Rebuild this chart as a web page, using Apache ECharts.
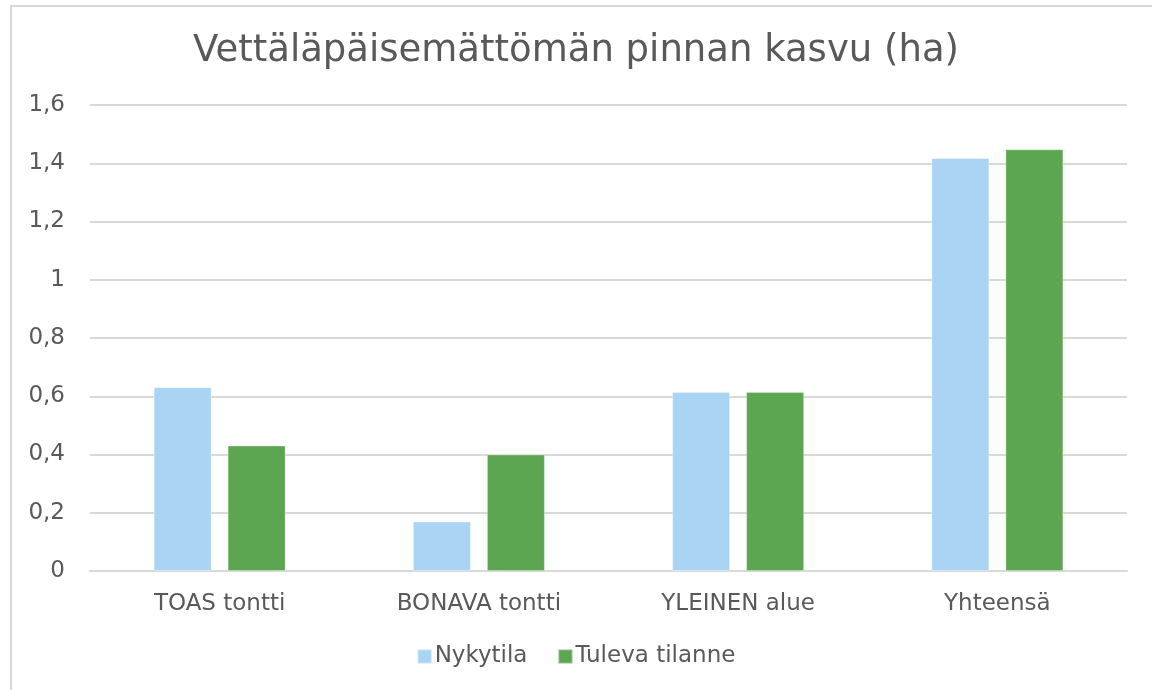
<!DOCTYPE html>
<html>
<head>
<meta charset="utf-8">
<script src="https://cdn.jsdelivr.net/npm/echarts@6/dist/echarts.min.js"></script>
<style>
html,body{margin:0;padding:0;background:#fff;}
#frame{position:absolute;left:10px;top:5px;width:1160px;height:700px;border:2px solid #d9d9d9;box-sizing:border-box;}
#chart{position:absolute;left:0;top:0;width:1152px;height:690px;}
</style>
</head>
<body>
<div id="frame"></div>
<div id="chart"></div>
<script>
const titleText = 'Vettäläpäisemättömän pinnan kasvu (ha)';
const categories = ['TOAS tontti', 'BONAVA tontti', 'YLEINEN alue', 'Yhteensä'];
const seriesNames = ['Nykytila', 'Tuleva tilanne'];
const nykytila = [0.631, 0.170, 0.615, 1.418];
const tuleva = [0.431, 0.400, 0.615, 1.448];

const textColor = '#595959';
const font = 'DejaVu Sans';
const chart = echarts.init(document.getElementById('chart'), null, {renderer: 'canvas'});
chart.setOption({
  backgroundColor: 'transparent',
  animation: false,
  title: {
    text: titleText,
    left: 'center',
    top: 28,
    textStyle: {fontFamily: font, fontSize: 37, fontWeight: 'normal', color: textColor}
  },
  legend: {
    data: seriesNames,
    bottom: 17,
    left: 'center',
    itemWidth: 14,
    itemHeight: 14,
    itemGap: 30,
    icon: 'rect',
    textStyle: {fontFamily: font, fontSize: 23, color: textColor, padding: [0,0,0,-2]}
  },
  grid: {left: 90, right: 25, top: 105, bottom: 119, containLabel: false},
  xAxis: {
    type: 'category',
    data: categories,
    axisLine: {lineStyle: {color: '#d9d9d9', width: 2}},
    axisTick: {show: false},
    axisLabel: {fontFamily: font, fontSize: 23, color: textColor, margin: 22}
  },
  yAxis: {
    type: 'value',
    min: 0,
    max: 1.6,
    interval: 0.2,
    axisLine: {show: false},
    axisTick: {show: false},
    splitLine: {lineStyle: {color: '#d9d9d9', width: 2}},
    axisLabel: {
      fontFamily: font, fontSize: 23, color: textColor, margin: 25,
      formatter: v => String(Math.round(v * 10) / 10).replace('.', ',')
    }
  },
  series: [
    {
      name: seriesNames[0], type: 'bar', data: nykytila,
      barWidth: 58, barGap: '27.6%',
      itemStyle: {color: '#A9D4F4', borderColor: 'rgba(255,255,255,0.35)', borderWidth: 1}
    },
    {
      name: seriesNames[1], type: 'bar', data: tuleva,
      barWidth: 58,
      itemStyle: {color: '#5DA651', borderColor: 'rgba(255,255,255,0.3)', borderWidth: 1}
    }
  ]
});
</script>
</body>
</html>
